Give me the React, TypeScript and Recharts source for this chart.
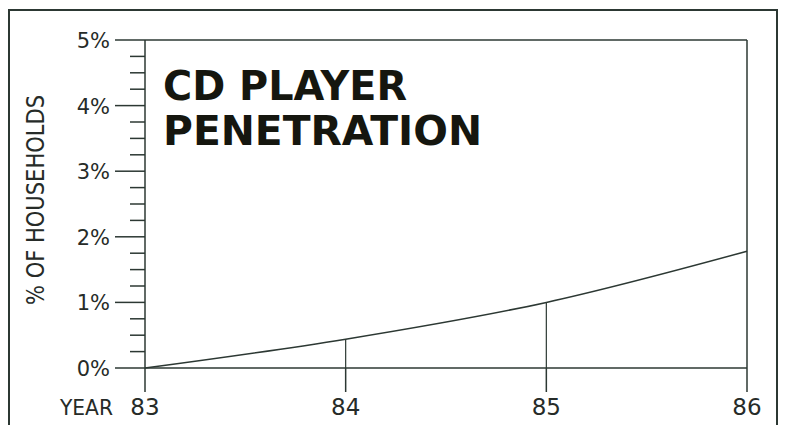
import React from "react";
import {
  LineChart,
  Line,
  XAxis,
  YAxis,
  ReferenceLine,
  Customized,
} from "recharts";

const years = [83, 84, 85, 86];
const penetration = [0, 0.44, 1.0, 1.78];
const yMajorTicks = [0, 1, 2, 3, 4, 5];
const yAllTicks = [0, 0.25, 0.5, 0.75, 1, 1.25, 1.5, 1.75, 2, 2.25, 2.5, 2.75, 3, 3.25, 3.5, 3.75, 4, 4.25, 4.5, 4.75, 5];
const titleLines = ["CD PLAYER", "PENETRATION"];
const yAxisTitle = "% OF HOUSEHOLDS";
const xAxisPrefix = "YEAR";

const data = years.map((year, i) => ({ year, value: penetration[i] }));

const INK = "#2c3833";
const TEXT = "#262b28";
const FONT = "'DejaVu Sans', sans-serif";

function YTick(props: any) {
  const { x, y, payload } = props;
  const v = payload.value;
  const major = yMajorTicks.includes(v);
  return (
    <g>
      <line x1={x - (major ? 30 : 15)} y1={y} x2={x} y2={y} stroke={INK} strokeWidth={1.5} />
      {major && (
        <text x={x - 35} y={y + 8} textAnchor="end" fontSize={21} fontFamily={FONT} fill={TEXT}>
          {`${v}%`}
        </text>
      )}
    </g>
  );
}

function XTick(props: any) {
  const { x, y, payload } = props;
  return (
    <g>
      <line x1={x} y1={y} x2={x} y2={y + 24} stroke={INK} strokeWidth={1.5} />
      <text x={x} y={y + 47} textAnchor="middle" fontSize={23} fontFamily={FONT} fill={TEXT}>
        {payload.value}
      </text>
    </g>
  );
}

function Labels() {
  return (
    <g>
      <text
        x={163}
        y={100}
        fontSize={40}
        fontWeight="bold"
        fontFamily={FONT}
        fill="#15160f"
        textLength={244}
        lengthAdjust="spacingAndGlyphs"
      >
        {titleLines[0]}
      </text>
      <text
        x={163}
        y={145}
        fontSize={40}
        fontWeight="bold"
        fontFamily={FONT}
        fill="#15160f"
        textLength={319}
        lengthAdjust="spacingAndGlyphs"
      >
        {titleLines[1]}
      </text>
      <text
        x={44}
        y={200}
        transform="rotate(-90 44 200)"
        textAnchor="middle"
        fontSize={25}
        fontFamily={FONT}
        fill={TEXT}
        textLength={210}
        lengthAdjust="spacingAndGlyphs"
      >
        {yAxisTitle}
      </text>
      <text
        x={113}
        y={415}
        textAnchor="end"
        fontSize={22}
        fontFamily={FONT}
        fill={TEXT}
        textLength={53}
        lengthAdjust="spacingAndGlyphs"
      >
        {xAxisPrefix}
      </text>
    </g>
  );
}

export default function App() {
  return (
    <div style={{ position: "absolute", left: 0, top: 0, width: 788, height: 425, background: "#fff" }}>
      <div
        style={{
          position: "absolute",
          left: 8,
          top: 9,
          width: 766,
          height: 420,
          borderTop: `2px solid ${INK}`,
          borderLeft: `2px solid ${INK}`,
          borderRight: `2px solid ${INK}`,
        }}
      />
      <LineChart
        width={788}
        height={425}
        data={data}
        margin={{ top: 40, right: 41, bottom: 0, left: 45 }}
        style={{ position: "absolute", left: 0, top: 0 }}
      >
        <XAxis
          dataKey="year"
          type="number"
          domain={[83, 86]}
          ticks={years}
          height={57}
          tickSize={0}
          tickMargin={0}
          tick={<XTick />}
          axisLine={{ stroke: INK, strokeWidth: 1.5 }}
          interval={0}
        />
        <YAxis
          type="number"
          domain={[0, 5]}
          ticks={yAllTicks}
          width={100}
          tickSize={0}
          tickMargin={0}
          tick={<YTick />}
          axisLine={{ stroke: INK, strokeWidth: 1.5 }}
          interval={0}
        />
        <ReferenceLine y={5} stroke={INK} strokeWidth={1.5} />
        <ReferenceLine x={86} stroke={INK} strokeWidth={1.5} />
        {data.slice(1, 3).map((d) => (
          <ReferenceLine
            key={d.year}
            segment={[
              { x: d.year, y: 0 },
              { x: d.year, y: d.value },
            ]}
            stroke={INK}
            strokeWidth={1.2}
          />
        ))}
        <Line
          type="monotone"
          dataKey="value"
          stroke={INK}
          strokeWidth={1.5}
          dot={false}
          isAnimationActive={false}
        />
        <Customized component={Labels} />
      </LineChart>
    </div>
  );
}
